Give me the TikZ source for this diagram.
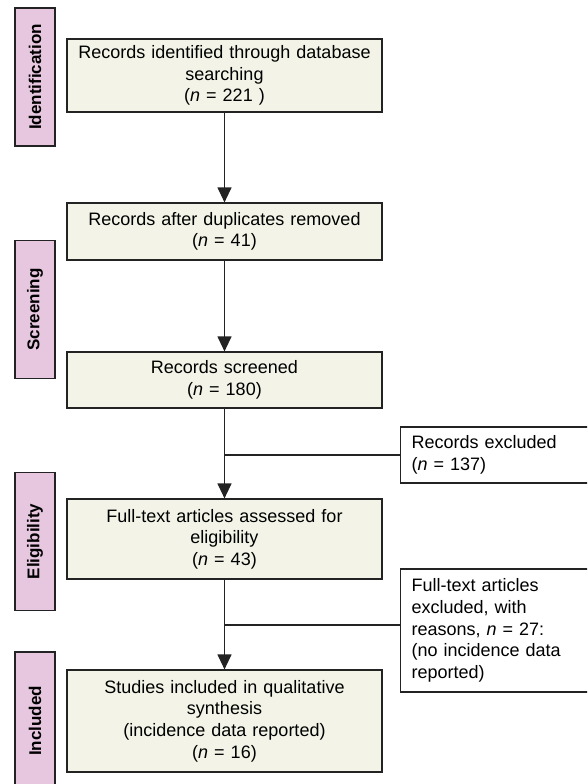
\documentclass[tikz,border=0pt]{standalone}
\usepackage{fontspec}
\setmainfont{Liberation Sans}
\usetikzlibrary{arrows.meta}
\definecolor{boxfill}{RGB}{243,244,231}
\definecolor{stagefill}{RGB}{231,199,224}
\definecolor{linecol}{RGB}{35,35,35}

\begin{document}
\begin{tikzpicture}[x=1pt,y=-1pt,line width=1.2pt,draw=linecol,
    flow/.style={draw=linecol,-{Triangle[length=15pt,width=14pt]}}]

      \useasboundingbox (0,0) rectangle (587,784);
      \clip (0,0) rectangle (587,784);

      % stages
      \begin{scope}[every node/.style={draw=linecol,fill=stagefill,rotate=90,
          minimum width=138,minimum height=40,inner sep=0pt,
          font=\fontsize{17}{20}\selectfont\bfseries}]
        \node (s1) at (35,77)    {Identification};
        \node (s2) at (35,309.5) {Screening};
        \node (s3) at (35,541.5) {Eligibility};
        \node (s4) at (35,721)   {Included};
      \end{scope}

      \begin{scope}[every node/.style={draw=linecol,fill=boxfill,minimum width=315,
          text width=300,align=center,inner sep=0pt,
          font=\fontsize{18}{21.6}\selectfont}]
        \node[minimum height=73]  (1) at (224.5,75.5)
          {Records identified through database\\searching\\(\textit{n} = 221 )};
        \node[minimum height=57]  (2) at (224.5,231.5)
          {Records after duplicates removed\\(\textit{n} = 41)};
        \node[minimum height=56]  (3) at (224.5,380)
          {Records screened\\(\textit{n} = 180)};
        \node[minimum height=80]  (4) at (224.5,539)
          {Full-text articles assessed for\\eligibility\\(\textit{n} = 43)};
        \node[minimum height=102] (5) at (224.5,721)
          {Studies included in qualitative\\synthesis\\(incidence data reported)\\(\textit{n} = 16)};
      \end{scope}

      \begin{scope}[every node/.style={draw=linecol,fill=white,anchor=west,
          minimum width=200,text width=178,align=left,inner xsep=11pt,inner ysep=0pt,
          font=\fontsize{18}{21.6}\selectfont}]
        \node[minimum height=56]  (6) at (400,455)
          {Records excluded\\(\textit{n} = 137)};
        \node[minimum height=123] (7) at (400,630.5)
          {Full-text articles\\excluded, with\\reasons, \textit{n} = 27:\\(no incidence data\\reported)};
      \end{scope}

      \coordinate (c1) at (3.south |- 6.west);
      \coordinate (c2) at (225,625);

      \path (1)  edge[flow] (2);
      \path (2)  edge[flow] (3);
      \path (3)  edge[flow] (4);
      \path (4)  edge[flow] (5);
      \path (c1) edge[draw=linecol] (6.west);
      \path (c2) edge[draw=linecol] (c2 -| 7.west);

    \end{tikzpicture}
\end{document}
